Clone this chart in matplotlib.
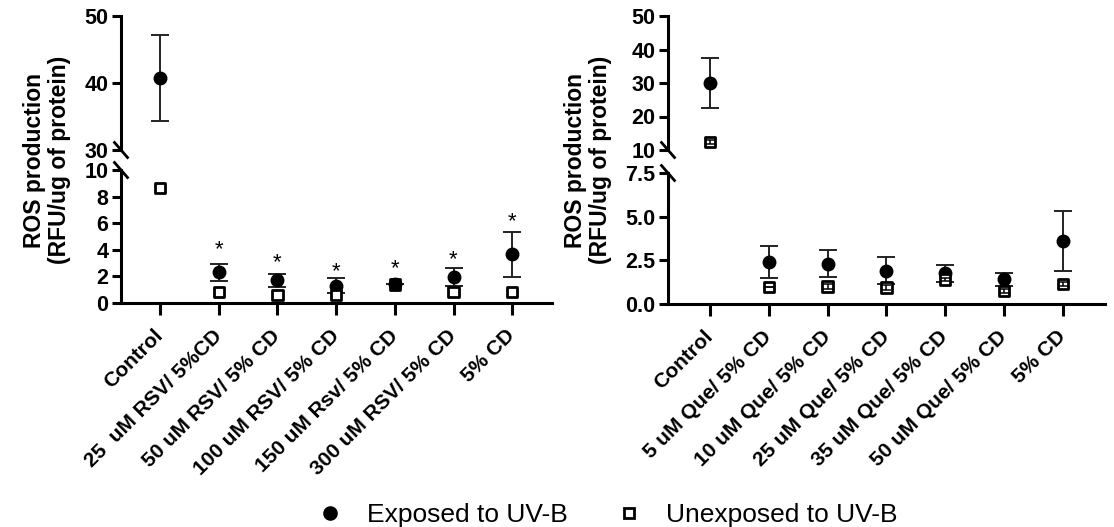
import matplotlib
matplotlib.use('Agg')
import matplotlib.pyplot as plt
from matplotlib.lines import Line2D
from matplotlib.ticker import FormatStrFormatter
import numpy as np

plt.rcParams['font.family'] = ['Liberation Sans', 'DejaVu Sans']

W, H, DPI = 1114, 527, 100

# ---------------- data ----------------
left_categories = ['Control', '25  uM RSV/ 5%CD', '50 uM RSV/ 5% CD', '100 uM RSV/ 5% CD',
                   '150 uM Rsv/ 5% CD', '300 uM RSV/ 5% CD', '5% CD']
left_exposed = [40.7, 2.3, 1.7, 1.3, 1.4, 1.95, 3.65]
left_exposed_err = [6.4, 0.65, 0.5, 0.55, 0.0, 0.7, 1.68]
left_unexposed = [8.65, 0.8, 0.6, 0.6, 1.4, 0.8, 0.85]
left_unexposed_err = [0, 0, 0, 0, 0, 0, 0]
left_unexposed_fill = ['white', 'white', 'white', 'white', 'black', 'white', 'white']
left_star_y = [None, 3.98, 3.0, 2.35, 2.6, 3.23, 6.1]

right_categories = ['Control', '5 uM Que/ 5% CD', '10 uM Que/ 5% CD', '25 uM Que/ 5% CD',
                    '35 uM Que/ 5% CD', '50 uM Que/ 5% CD', '5% CD']
right_exposed = [30.0, 2.4, 2.3, 1.9, 1.75, 1.41, 3.6]
right_exposed_err = [7.4, 0.93, 0.77, 0.77, 0.48, 0.38, 1.72]
right_unexposed = [12.3, 0.97, 1.0, 0.95, 1.41, 0.74, 1.14]
right_unexposed_err = [0.6, 0.0, 0.12, 0.12, 0.1, 0.1, 0.1]
right_unexposed_fill = ['white'] * 7

left_upper_ticks = [30, 40, 50]
left_lower_ticks = [0, 2, 4, 6, 8, 10]
right_upper_ticks = [10, 20, 30, 40, 50]
right_lower_ticks = [0.0, 2.5, 5.0, 7.5]

ylabel = 'ROS production\n(RFU/ug of protein)'
legend_labels = ['Exposed to UV-B', 'Unexposed to UV-B']

# ---------------- figure ----------------
fig = plt.figure(figsize=(W / DPI, H / DPI), dpi=DPI)


def px_axes(x0, x1, y0, y1):
    return fig.add_axes([x0 / W, 1 - y1 / H, (x1 - x0) / W, (y1 - y0) / H])


SPINE_W = 2.2
TICK_FS = 15.5


def style(ax, upper):
    for s in ['top', 'right']:
        ax.spines[s].set_visible(False)
    ax.spines['left'].set_linewidth(SPINE_W)
    ax.spines['bottom'].set_linewidth(SPINE_W)
    ax.tick_params(axis='y', width=SPINE_W, length=6.5, pad=2.5, labelsize=TICK_FS)
    for lab in ax.get_yticklabels():
        lab.set_fontweight('bold')
    if upper:
        ax.spines['bottom'].set_visible(False)
        ax.tick_params(axis='x', bottom=False, labelbottom=False)
    else:
        ax.tick_params(axis='x', width=SPINE_W, length=8.5, pad=13)


def draw(ax, exp, exp_err, unexp, unexp_err, unexp_fill):
    x = np.arange(len(exp))
    ax.errorbar(x, exp, yerr=exp_err, fmt='o', color='black', ms=9,
                ecolor='#222222', elinewidth=1.4, capsize=6.5, capthick=1.4,
                zorder=3, clip_on=True)
    ax.scatter(x, unexp, marker='s', s=7.4 ** 2, facecolors=unexp_fill,
               edgecolors='black', linewidths=2.0, zorder=4)
    if any(e > 0 for e in unexp_err):
        ax.errorbar(x, unexp, yerr=unexp_err, fmt='none', ecolor='black',
                    elinewidth=1.1, capsize=3.5, capthick=1.1, zorder=5)


def break_marks(ax, at_bottom):
    bb = ax.get_position()
    wpx = bb.width * W
    hpx = bb.height * H
    dx, dy = 6.5 / wpx, 7.5 / hpx
    yc = 0 if at_bottom else 1
    ax.plot([-dx, dx], [yc + dy, yc - dy], transform=ax.transAxes,
            color='black', lw=2.0, clip_on=False, zorder=6)


def panel(x0, x1, up, low, xstart, step, cats, exp, exp_err, unexp, unexp_err,
          unexp_fill, uticks, lticks, ulim, llim, ufmt=None, lfmt=None, stars=None):
    axu = px_axes(x0, x1, up[0], up[1])
    axl = px_axes(x0, x1, low[0], low[1])
    xlim = ((x0 - xstart) / step, (x1 - xstart) / step)
    for ax, ticks, lim, fmt in [(axu, uticks, ulim, ufmt), (axl, lticks, llim, lfmt)]:
        draw(ax, exp, exp_err, unexp, unexp_err, unexp_fill)
        ax.set_xlim(*xlim)
        ax.set_ylim(*lim)
        ax.set_yticks(ticks)
        if fmt:
            ax.yaxis.set_major_formatter(FormatStrFormatter(fmt))
    axl.set_xticks(np.arange(len(cats)))
    axl.set_xticklabels(cats, rotation=45, ha='right', va='center',
                        rotation_mode='anchor', fontsize=15, fontweight='bold')
    style(axu, True)
    style(axl, False)
    break_marks(axu, True)
    break_marks(axl, False)
    if stars:
        for i, sy in enumerate(stars):
            if sy is not None:
                axl.text(i, sy, '*', ha='center', va='center', fontsize=16)
    return axu, axl


panel(121, 552, (16, 150), (170, 303), 160, 58.7, left_categories,
      left_exposed, left_exposed_err, left_unexposed, left_unexposed_err,
      left_unexposed_fill, left_upper_ticks, left_lower_ticks, (30, 50), (0, 10),
      ufmt='%d', lfmt='%d', stars=left_star_y)

panel(668, 1105, (16, 150), (173, 304), 710, 58.8, right_categories,
      right_exposed, right_exposed_err, right_unexposed, right_unexposed_err,
      right_unexposed_fill, right_upper_ticks, right_lower_ticks, (10, 50), (0, 7.5),
      ufmt='%d', lfmt='%.1f')

fig.text(47 / W, 1 - 160 / H, ylabel, rotation=90, ha='center', va='center',
         fontsize=16.5, fontweight='bold', multialignment='center', linespacing=1.15)
fig.text(588 / W, 1 - 160 / H, ylabel, rotation=90, ha='center', va='center',
         fontsize=16.5, fontweight='bold', multialignment='center', linespacing=1.15)

handles = [Line2D([], [], marker='o', ls='none', color='black', ms=9.5),
           Line2D([], [], marker='s', ls='none', mfc='white', mec='black', mew=2, ms=7.5)]
fig.legend(handles, legend_labels, loc='center', bbox_to_anchor=(607 / W, 1 - 515 / H),
           ncol=2, frameon=False, fontsize=19, handlelength=1.0, handletextpad=0.9,
           columnspacing=1.8, borderpad=0)

fig.savefig('out.png', dpi=DPI)
